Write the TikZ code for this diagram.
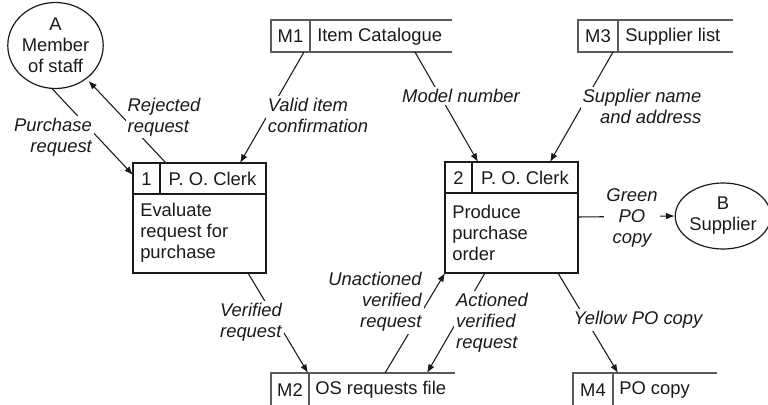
\documentclass[tikz,border=0pt]{standalone}
\usepackage{fontspec}
\setmainfont{Liberation Sans}
\usetikzlibrary{shapes.geometric,arrows.meta}

\definecolor{ink}{HTML}{1A1A1A}
\definecolor{storeline}{HTML}{5A5A5A}

\tikzset{
  txt/.style={font=\fontsize{13.8}{15.8}\selectfont, text=ink, inner sep=0pt},
  flowlabel/.style={font=\fontsize{13.8}{15.8}\selectfont\itshape, text=ink,
    fill=white, inner sep=1.5pt},
  procline/.style={draw=ink, line width=0.9pt},
  storeedge/.style={draw=storeline, line width=1pt},
  entity/.style={ellipse, draw=ink, line width=0.9pt, inner sep=0pt, align=center,
    font=\fontsize{13.8}{15.8}\selectfont, text=ink},
  flow/.style={draw=ink, line width=0.8pt},
  flowarrow/.style={flow, -{Latex[length=6.5pt,width=5pt]}}
}

\begin{document}
\begin{tikzpicture}[x=0.75pt, y=-0.75pt]
\useasboundingbox (0,0) rectangle (768,404);
\clip (0,0) rectangle (768,404);

% ---------- external entities ----------
\node[entity, minimum width=71.25pt, minimum height=64.5pt] (staff) at (55.5,45.5)
  {A\\Member\\of staff};
\node[entity, minimum width=58.5pt, minimum height=49.5pt] (supplier) at (723,216)
  {B\\Supplier};

% ---------- process 1 ----------
\node[draw=ink, line width=0.9pt, minimum width=99.75pt, minimum height=82.5pt,
  inner sep=0pt] (p1) at (199.5,218) {};
\draw[procline] (133,194) -- (266,194) (160,163) -- (160,194);
\node[txt] (p1num) at (146.5,179) {1};
\node[txt] (p1who) at (212.5,179) {P. O. Clerk};
\node[txt, anchor=west, align=left] (p1what) at (140,233)
  {Evaluate\\request for\\purchase};

% ---------- process 2 ----------
\node[draw=ink, line width=0.9pt, minimum width=99.75pt, minimum height=83.25pt,
  inner sep=0pt] (p2) at (511.5,217.5) {};
\draw[procline] (445,193) -- (578,193) (472,162) -- (472,193);
\node[txt] (p2num) at (458.5,178) {2};
\node[txt] (p2who) at (525,178) {P. O. Clerk};
\node[txt, anchor=west, align=left] (p2what) at (452,233)
  {Produce\\purchase\\order};

% ---------- data stores (open on the right) ----------
\draw[storeedge] (452,20) -- (271,20) -- (271,52) -- (452,52) (310,20) -- (310,52);
\node[txt] (m1id) at (290.5,36.5) {M1};
\node[txt, anchor=west] (m1) at (317,36.5) {Item Catalogue};

\draw[storeedge] (733,20) -- (578,20) -- (578,52) -- (733,52) (618,20) -- (618,52);
\node[txt] (m3id) at (598,36.5) {M3};
\node[txt, anchor=west] (m3) at (625,36.5) {Supplier list};

\draw[storeedge] (455,373) -- (271,373) -- (271,406) -- (455,406) (309,373) -- (309,406);
\node[txt] (m2id) at (290,390) {M2};
\node[txt, anchor=west] (m2) at (315,390) {OS requests file};

\draw[storeedge] (717,373) -- (573,373) -- (573,406) -- (717,406) (613,373) -- (613,406);
\node[txt] (m4id) at (593,390) {M4};
\node[txt, anchor=west] (m4) at (619,390) {PO copy};

% ---------- connection points ----------
\coordinate (p1-left)  at (133,175);
\coordinate (p1-top1)  at (166,163);
\coordinate (p1-top2)  at (240,163);
\coordinate (p1-bot)   at (248,273);
\coordinate (p2-top1)  at (478,162);
\coordinate (p2-top2)  at (550,162);
\coordinate (p2-right) at (578,217);
\coordinate (p2-corner) at (445,273);
\coordinate (p2-bot1)  at (485,273);
\coordinate (p2-bot2)  at (558,273);
\coordinate (m1-out1)  at (304,52);
\coordinate (m1-out2)  at (415,52);
\coordinate (m3-out)   at (613,52);
\coordinate (m2-in1)   at (308,373);
\coordinate (m2-out)   at (385,373);
\coordinate (m2-in2)   at (427,373);
\coordinate (m4-in)    at (618,373);

% ---------- data flows ----------
\draw[flowarrow] (staff.-94) -- (p1-left);
\draw[flowarrow, shorten >=2pt] (p1-top1) -- (staff.-47);
\draw[flowarrow] (m1-out1) -- (p1-top2);
\draw[flowarrow] (m1-out2) -- (p2-top1);
\draw[flowarrow] (m3-out) -- (p2-top2);
\draw[flowarrow] (p2-right) -- (supplier.west);
\draw[flowarrow] (p1-bot) -- (m2-in1);
\draw[flowarrow] (m2-out) -- (p2-corner);
\draw[flowarrow] (p2-bot1) -- (m2-in2);
\draw[flowarrow] (p2-bot2) -- (m4-in);

% ---------- flow labels ----------
\node[flowlabel, align=right] (lpurchase) at (53,137) {Purchase\\request};
\node[flowlabel, align=left] (lreject) at (164,117) {Rejected\\request};
\node[flowlabel, align=left] (lvalid) at (318,115) {Valid item\\confirmation};
\node[flowlabel] (lmodel) at (461,96) {Model number};
\node[flowlabel, align=right] (lsupp) at (642,106) {Supplier name\\and address};
\node[flowlabel, align=center] (lgreen) at (632,218) {Green\\PO\\copy};
\node[flowlabel, align=left] (lverified) at (251,322) {Verified\\request};
\node[flowlabel, align=right] (lunact) at (375,302) {Unactioned\\verified\\request};
\node[flowlabel, align=left] (lact) at (492,323) {Actioned\\verified\\request};
\node[flowlabel] (lyellow) at (638,320) {Yellow PO copy};
\end{tikzpicture}
\end{document}
